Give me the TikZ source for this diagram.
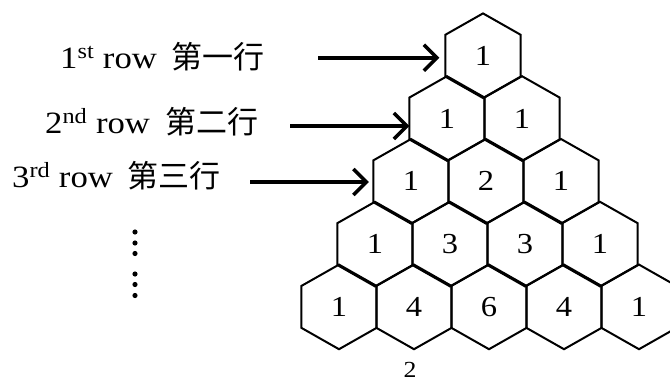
\documentclass[tikz,border=0pt]{standalone}
\usepackage{fontspec}
\setmainfont{Liberation Serif}[FakeStretch=1.12]
\newfontfamily\cjk{Noto Sans CJK SC}
\usetikzlibrary{arrows.meta}
\begin{document}
\begin{tikzpicture}[x=1pt,y=-1pt,
  hexcell/.style={minimum width=75pt,minimum height=41.4pt,inner sep=0pt,
    font=\fontsize{29}{34}\selectfont},
  hexline/.style={line width=2pt,line join=miter},
  arr/.style={line width=4pt,-{Straight Barb[length=13pt,width=26pt,line width=3.5pt]}},
  rowlabel/.style={anchor=base west,inner sep=0pt,font=\fontsize{31}{37}\selectfont}]
\useasboundingbox (0,0) rectangle (670,383);
\clip (0,0) rectangle (670,383);

% Pascal's triangle in hexagonal cells
\foreach \r/\vals in {1/{1},2/{1,1},3/{1,2,1},4/{1,3,3,1},5/{1,4,6,4,1}} {
  \foreach \v [count=\k from 1] in \vals {
    \node[hexcell] (h\r\k) at ({483-36*(\r-1)+75*(\k-1)},{55.7+62.8*(\r-1)}) {\v};
    \draw[hexline] (h\r\k.north west) -- ([yshift=21.4pt]h\r\k.north)
      -- (h\r\k.north east) -- (h\r\k.south east)
      -- ([yshift=-21.4pt]h\r\k.south) -- (h\r\k.south west) -- cycle;
  }
}

% row labels
\node[rowlabel] (l1) at (60,68) {1\textsuperscript{st} row\hspace{15pt}{\cjk 第一行}};
\node[rowlabel] (l2) at (45,133) {2\textsuperscript{nd} row\hspace{15pt}{\cjk 第二行}};
\node[rowlabel] (l3) at (12,187) {3\textsuperscript{rd} row\hspace{15pt}{\cjk 第三行}};

% arrows pointing at the first cell of each row
\coordinate (s1) at (318,57.7);
\coordinate (s2) at (290,126);
\coordinate (s3) at (250,182);
\draw[arr,shorten >=6pt] (s1) -- (s1 -| h11.west);
\draw[arr] (s2) -- (s2 -| h21.west);
\draw[arr,shorten >=4.5pt] (s3) -- (s3 -| h31.west);

% continuation dots
\foreach \y in {232,243,253.5,274,284.5,295.5}
  \fill (135,\y) circle (2.6);

% page number
\node[font=\fontsize{23}{27}\selectfont,inner sep=0pt] (pg) at (410,370) {2};
\end{tikzpicture}
\end{document}
